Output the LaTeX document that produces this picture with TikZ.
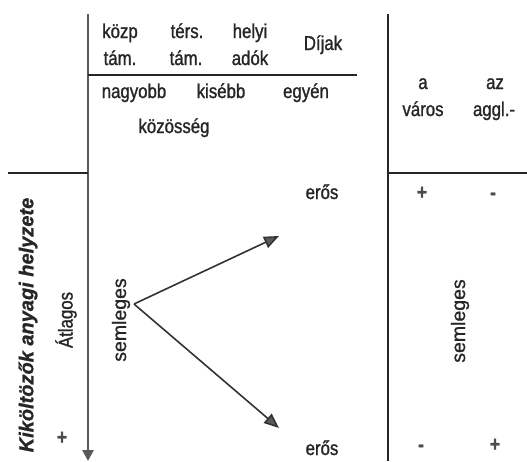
\documentclass[tikz,border=0pt]{standalone}
\usepackage{fontspec}
\setmainfont{Liberation Sans}[FakeStretch=0.84,FakeBold=1.2]
\newfontfamily\widesans{Liberation Sans}[FakeBold=1.0]
\usetikzlibrary{arrows.meta}
\begin{document}
\begin{tikzpicture}[x=1pt,y=-1pt,
  txt/.style={inner sep=0pt,font=\fontsize{20}{23}\selectfont,anchor=base,text=black!85},
  rtxt/.style={inner sep=0pt,font=\fontsize{20}{23}\selectfont,rotate=90,text=black!85},
  wtxt/.style={inner sep=0pt,font=\widesans\fontsize{19.5}{23}\selectfont,rotate=90,text=black!85},
  sign/.style={inner sep=0pt,font=\fontsize{21}{23}\selectfont\bfseries,text=black!70},
  rule/.style={line width=1.4pt,black!85},
  grayarrow/.style={line width=1.6pt,black!80,-{Triangle[length=15pt,width=12pt,fill=black!65]}}]
\useasboundingbox (0,0) rectangle (527,461);
% lines
\coordinate (vtop) at (88,14);
\coordinate (vbot) at (88,461);
\draw[line width=2.6pt,black!65,-{Triangle[length=11pt,width=11pt]}] (vtop) -- (vbot);
\coordinate (htl) at (88,75);
\coordinate (htr) at (357,75);
\draw[rule] (htl) -- (htr);
\coordinate (rtop) at (388,14);
\coordinate (rbot) at (388,461);
\draw[rule] (rtop) -- (rbot);
\coordinate (hl1) at (8,173);
\coordinate (hl2) at (88,173);
\draw[rule] (hl1) -- (hl2);
\coordinate (hr1) at (388,173);
\coordinate (hr2) at (527,173);
\draw[rule] (hr1) -- (hr2);
% header
\node[txt] (kozp) at (120,38) {közp};
\node[txt] (tam1) at (120,65) {tám.};
\node[txt] (ters) at (187,38) {térs.};
\node[txt] (tam2) at (186,65) {tám.};
\node[txt] (helyi) at (250,38) {helyi};
\node[txt] (adok) at (250,65) {adók};
\node[txt] (dijak) at (323,50) {Díjak};
\node[txt] (nagyobb) at (134,98) {nagyobb};
\node[txt] (kisebb) at (221,98) {kisébb};
\node[txt] (egyen) at (306,98) {egyén};
\node[txt] (kozosseg) at (174,133) {közösség};
\node[txt] (a) at (423,89) {a};
\node[txt] (varos) at (423,116) {város};
\node[txt] (az) at (495,89) {az};
\node[txt] (aggl) at (494,116) {aggl.-};
% body
\node[txt] (eros1) at (322,199) {erős};
\node[txt] (eros2) at (322,455) {erős};
\node[sign] (p1) at (422,193) {+};
\node[sign] (m1) at (493,196) {-};
\node[sign] (m2) at (421,448) {-};
\node[sign] (p2) at (495,445) {+};
\node[sign] (p3) at (62,438) {+};
\node[wtxt] (sem2) at (460,321) {semleges};
\node[wtxt] (sem1) at (121,320) {semleges};
\node[rtxt] (atl) at (66,320) {Átlagos};
\node[wtxt,font=\widesans\fontsize{20}{23}\selectfont\bfseries\itshape] (kik) at (28,325) {Kiköltözők anyagi helyzete};
% arrows
\coordinate (vx) at (134,304);
\coordinate (up) at (279,236);
\coordinate (dn) at (279,428);
\draw[grayarrow] (vx) -- (up);
\draw[grayarrow] (vx) -- (dn);
\end{tikzpicture}
\end{document}
